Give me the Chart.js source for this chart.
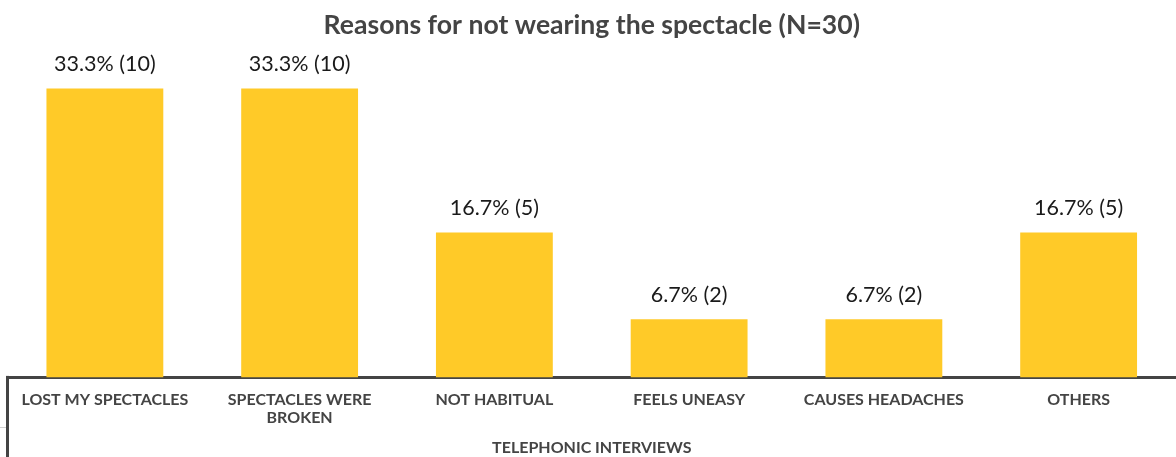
<!DOCTYPE html>
<html>
<head>
<meta charset="utf-8">
<title>Reasons for not wearing the spectacle</title>
<script src="https://cdn.jsdelivr.net/npm/chart.js@4.4.1/dist/chart.umd.min.js"></script>
<style>
    html, body { margin: 0; padding: 0; background: #ffffff; }
    #wrap { width: 1176px; height: 457px; }
</style>
</head>
<body>
<div id="wrap"><canvas id="reasonsChart" width="1176" height="457"></canvas></div>
<script>
const reasons = [
    "LOST MY SPECTACLES",
    ["SPECTACLES WERE", "BROKEN"],
    "NOT HABITUAL",
    "FEELS UNEASY",
    "CAUSES HEADACHES",
    "OTHERS"
];
const percents = [33.3, 33.3, 16.7, 6.7, 6.7, 16.7];
const counts = [10, 10, 5, 2, 2, 5];

const barColor = "#FFCA28";
const axisColor = "#444444";

// percentage + count above each bar
const valueLabels = {
    id: "valueLabels",
    afterDatasetsDraw(chart) {
        const ctx = chart.ctx;
        const meta = chart.getDatasetMeta(0);
        ctx.save();
        ctx.font = "21.5px Lato";
        ctx.fillStyle = "#1a1a1a";
        ctx.textAlign = "center";
        ctx.textBaseline = "middle";
        meta.data.forEach((bar, i) => {
            ctx.fillText(percents[i].toFixed(1) + "% (" + counts[i] + ")", bar.x, bar.y - 24);
        });
        ctx.restore();
    }
};

// vertical bracket on the left of the category axis
const axisBracket = {
    id: "axisBracket",
    afterDraw(chart) {
        const ctx = chart.ctx;
        const area = chart.chartArea;
        ctx.save();
        ctx.strokeStyle = axisColor;
        ctx.lineWidth = 3;
        ctx.beginPath();
        ctx.moveTo(area.left, area.bottom - 1.5);
        ctx.lineTo(area.left, chart.height);
        ctx.stroke();
        ctx.strokeStyle = "#d0d0d0";
        ctx.lineWidth = 1;
        ctx.beginPath();
        ctx.moveTo(0, 427.5);
        ctx.lineTo(area.left - 1.5, 427.5);
        ctx.stroke();
        ctx.restore();
    }
};

const ctx = document.getElementById("reasonsChart").getContext("2d");
const reasonsChart = new Chart(ctx, {
    type: "bar",
    data: {
        labels: reasons,
        datasets: [{
            label: "Share of respondents",
            data: percents,
            backgroundColor: barColor,
            borderWidth: 0,
            barPercentage: 0.6,
            categoryPercentage: 1.0
        }]
    },
    options: {
        responsive: false,
        animation: false,
        layout: { padding: { left: 7.5, right: 0, top: 0, bottom: 0 } },
        plugins: {
            legend: { display: false },
            tooltip: { enabled: false },
            title: {
                display: true,
                text: "Reasons for not wearing the spectacle (N=30)",
                color: axisColor,
                font: { family: "Lato", size: 26.6, weight: "bold" },
                padding: { top: 9, bottom: 18 }
            }
        },
        scales: {
            x: {
                grid: { display: false, drawTicks: false },
                border: { display: true, color: axisColor, width: 3 },
                ticks: {
                    color: axisColor,
                    padding: 13,
                    maxRotation: 0,
                    autoSkip: false,
                    font: { family: "Lato", size: 16, weight: "bold", lineHeight: 1.125 }
                },
                title: {
                    display: true,
                    text: "TELEPHONIC INTERVIEWS",
                    color: axisColor,
                    font: { family: "Lato", size: 16, weight: "bold", lineHeight: 1.1 },
                    padding: { top: 0, bottom: 0 }
                }
            },
            y: {
                display: false,
                min: 0,
                max: 36.7
            }
        }
    },
    plugins: [valueLabels, axisBracket]
});
</script>
</body>
</html>
